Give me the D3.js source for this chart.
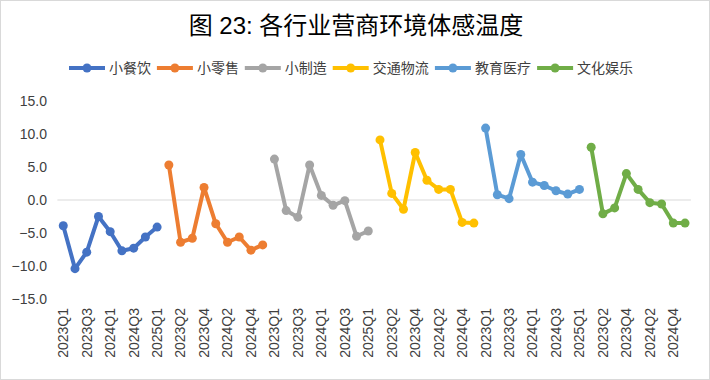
<!DOCTYPE html>
<html>
<head>
<meta charset="utf-8">
<script src="https://cdn.jsdelivr.net/npm/d3@7"></script>
<style>
  body { margin: 0; background: #fff; }
  text { font-family: "Liberation Sans", "Noto Sans CJK SC", sans-serif; fill: #404040; }
</style>
</head>
<body>
<script>
var quarters = ['2023Q1','2023Q2','2023Q3','2023Q4','2024Q1','2024Q2','2024Q3','2024Q4','2025Q1'];
var seriesNames = ['小餐饮','小零售','小制造','交通物流','教育医疗','文化娱乐'];
var colors = ['#4472C4','#ED7D31','#A5A5A5','#FFC000','#5B9BD5','#70AD47'];

var food = [-3.9, -10.4, -7.9, -2.5, -4.8, -7.7, -7.3, -5.6, -4.1];
var retail = [5.3, -6.4, -5.8, 1.9, -3.6, -6.4, -5.6, -7.6, -6.8];
var manufacturing = [6.2, -1.6, -2.6, 5.3, 0.7, -0.8, -0.1, -5.5, -4.7];
var logistics = [9.1, 1.0, -1.4, 7.2, 3.0, 1.6, 1.6, -3.4, -3.5];
var education = [10.9, 0.8, 0.2, 6.9, 2.7, 2.2, 1.4, 0.9, 1.6];
var culture = [8.0, -2.1, -1.2, 4.0, 1.6, -0.4, -0.6, -3.5, -3.5];

var seriesValues = [food, retail, manufacturing, logistics, education, culture];
var yTicks = [-15, -10, -5, 0, 5, 10, 15];

var width = 710, height = 380;

var svg = d3.select('body').append('svg')
	.attr('width', width)
	.attr('height', height);

svg.append('rect')
	.attr('x', 0.5).attr('y', 0.5)
	.attr('width', width - 1).attr('height', height - 1)
	.attr('fill', '#fff')
	.attr('stroke', '#d9d9d9');

// title
svg.append('text')
	.attr('x', 356)
	.attr('y', 34)
	.attr('text-anchor', 'middle')
	.attr('font-size', 24)
	.attr('fill', '#000')
	.style('fill', '#000')
	.text('图 23: 各行业营商环境体感温度');

// one category slot per (series, quarter)
var slots = [];
seriesNames.forEach((s, si) => {
	quarters.forEach((q, qi) => slots.push(si * quarters.length + qi));
});

var x = d3.scaleBand()
	.domain(slots)
	.range([57.4, 690.9])
	.padding(0);

var y = d3.scaleLinear()
	.domain([-15, 15])
	.range([299, 101]);

var cx = i => x(i) + x.bandwidth() / 2;

// y axis labels
var yAxis = d3.axisLeft(y)
	.tickValues(yTicks)
	.tickSize(0)
	.tickPadding(0)
	.tickFormat(d3.format('.1f'));

svg.append('g')
	.attr('transform', 'translate(47,0)')
	.call(yAxis)
	.call(g => g.select('.domain').remove())
	.selectAll('text')
		.attr('font-size', 14)
		.attr('font-family', null)
		.style('fill', '#404040');

// zero line
svg.append('line')
	.attr('x1', 57.4)
	.attr('x2', 690.9)
	.attr('y1', y(0))
	.attr('y2', y(0))
	.attr('stroke', '#d9d9d9')
	.attr('stroke-width', 1);

// x axis labels, every other slot
var xAxis = d3.axisBottom(x)
	.tickValues(slots.filter(d => d % 2 === 0))
	.tickSize(0)
	.tickFormat(d => quarters[d % quarters.length]);

var xg = svg.append('g')
	.attr('transform', 'translate(0,308)')
	.call(xAxis);
xg.select('.domain').remove();
xg.selectAll('text')
	.attr('font-size', 14)
	.attr('font-family', null)
	.attr('transform', 'rotate(-90)')
	.attr('text-anchor', 'end')
	.attr('x', 0)
	.attr('y', 0)
	.attr('dy', '0.35em')
	.style('fill', '#404040');

// lines and markers
var line = d3.line()
	.x(d => cx(d.slot))
	.y(d => y(d.value));

seriesValues.forEach((vals, si) => {
	var pts = vals.map((v, qi) => ({ slot: si * quarters.length + qi, value: v }));
	svg.append('path')
		.datum(pts)
		.attr('d', line)
		.attr('fill', 'none')
		.attr('stroke', colors[si])
		.attr('stroke-width', 4)
		.attr('stroke-linejoin', 'round');
	svg.selectAll('circle.s' + si)
		.data(pts)
		.enter().append('circle')
			.attr('class', 's' + si)
			.attr('cx', d => cx(d.slot))
			.attr('cy', d => y(d.value))
			.attr('r', 4.5)
			.attr('fill', colors[si]);
});

// legend
var lx = 69, ly = 68;
seriesNames.forEach((name, si) => {
	var g = svg.append('g').attr('transform', 'translate(' + lx + ',' + ly + ')');
	g.append('line')
		.attr('x1', 0).attr('x2', 36)
		.attr('stroke', colors[si])
		.attr('stroke-width', 4);
	g.append('circle')
		.attr('cx', 18)
		.attr('r', 4.5)
		.attr('fill', colors[si]);
	var tw = name.length * 14.3;
	g.append('text')
		.attr('x', 40)
		.attr('dy', '0.35em')
		.attr('font-size', 14)
		.text(name);
	lx += 40 + tw + 5;
});
</script>
</body>
</html>
